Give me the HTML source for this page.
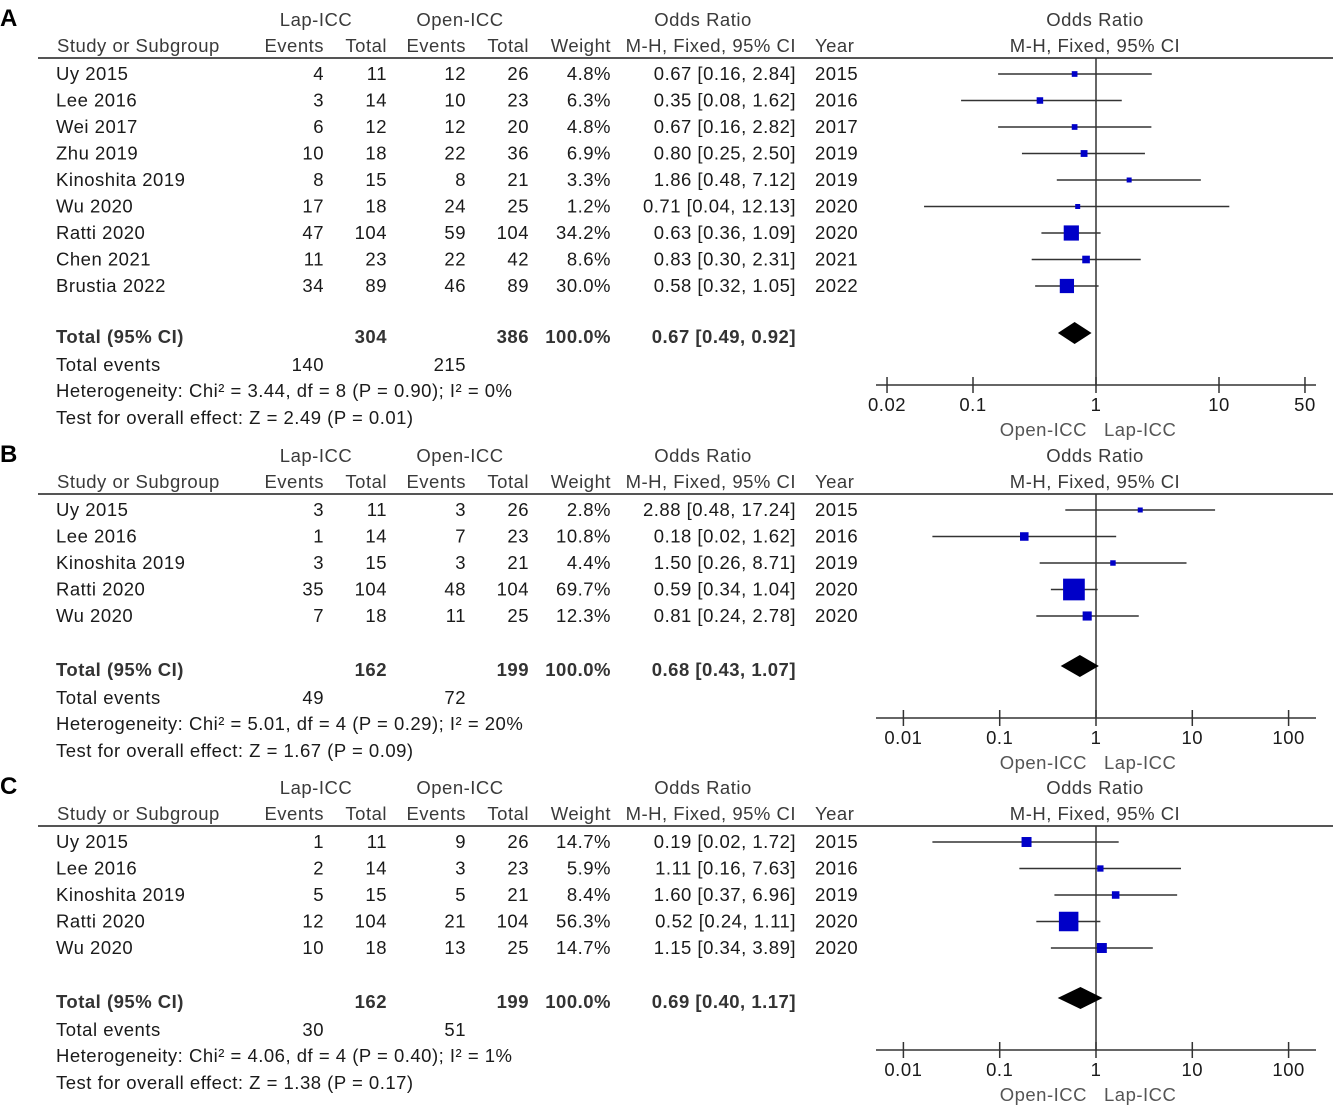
<!DOCTYPE html>
<html><head><meta charset="utf-8"><style>
html,body{margin:0;padding:0;background:#fff;}
svg{display:block;font-family:"Liberation Sans",Arial,sans-serif;}
text{letter-spacing:0.5px;}
</style></head><body>
<svg id="fp" width="1333" height="1108" viewBox="0 0 1333 1108" xmlns="http://www.w3.org/2000/svg"></svg>
<script>
// ---- Panel A data ----
const studiesA = ["Uy 2015","Lee 2016","Wei 2017","Zhu 2019","Kinoshita 2019","Wu 2020","Ratti 2020","Chen 2021","Brustia 2022"];
const lapEvA = [4,3,6,10,8,17,47,11,34];
const lapTotA = [11,14,12,18,15,18,104,23,89];
const openEvA = [12,10,12,22,8,24,59,22,46];
const openTotA = [26,23,20,36,21,25,104,42,89];
const weightA = [4.8,6.3,4.8,6.9,3.3,1.2,34.2,8.6,30.0];
const orA = [0.67,0.35,0.67,0.80,1.86,0.71,0.63,0.83,0.58];
const loA = [0.16,0.08,0.16,0.25,0.48,0.04,0.36,0.30,0.32];
const hiA = [2.84,1.62,2.82,2.50,7.12,12.13,1.09,2.31,1.05];
const yearA = [2015,2016,2017,2019,2019,2020,2020,2021,2022];
const totalA = {lap:304, open:386, lapEv:140, openEv:215, or:0.67, lo:0.49, hi:0.92,
  het:"Heterogeneity: Chi² = 3.44, df = 8 (P = 0.90); I² = 0%", test:"Test for overall effect: Z = 2.49 (P = 0.01)"};
const ticksA = [0.02,0.1,1,10,50];
const tickLabelsA = ["0.02","0.1","1","10","50"];
// ---- Panel B data ----
const studiesB = ["Uy 2015","Lee 2016","Kinoshita 2019","Ratti 2020","Wu 2020"];
const lapEvB = [3,1,3,35,7];
const lapTotB = [11,14,15,104,18];
const openEvB = [3,7,3,48,11];
const openTotB = [26,23,21,104,25];
const weightB = [2.8,10.8,4.4,69.7,12.3];
const orB = [2.88,0.18,1.50,0.59,0.81];
const loB = [0.48,0.02,0.26,0.34,0.24];
const hiB = [17.24,1.62,8.71,1.04,2.78];
const yearB = [2015,2016,2019,2020,2020];
const totalB = {lap:162, open:199, lapEv:49, openEv:72, or:0.68, lo:0.43, hi:1.07,
  het:"Heterogeneity: Chi² = 5.01, df = 4 (P = 0.29); I² = 20%", test:"Test for overall effect: Z = 1.67 (P = 0.09)"};
const ticksB = [0.01,0.1,1,10,100];
const tickLabelsB = ["0.01","0.1","1","10","100"];
// ---- Panel C data ----
const studiesC = ["Uy 2015","Lee 2016","Kinoshita 2019","Ratti 2020","Wu 2020"];
const lapEvC = [1,2,5,12,10];
const lapTotC = [11,14,15,104,18];
const openEvC = [9,3,5,21,13];
const openTotC = [26,23,21,104,25];
const weightC = [14.7,5.9,8.4,56.3,14.7];
const orC = [0.19,1.11,1.60,0.52,1.15];
const loC = [0.02,0.16,0.37,0.24,0.34];
const hiC = [1.72,7.63,6.96,1.11,3.89];
const yearC = [2015,2016,2019,2020,2020];
const totalC = {lap:162, open:199, lapEv:30, openEv:51, or:0.69, lo:0.40, hi:1.17,
  het:"Heterogeneity: Chi² = 4.06, df = 4 (P = 0.40); I² = 1%", test:"Test for overall effect: Z = 1.38 (P = 0.17)"};
const ticksC = [0.01,0.1,1,10,100];
const tickLabelsC = ["0.01","0.1","1","10","100"];

const NS = "http://www.w3.org/2000/svg";
const svg = document.getElementById("fp");
function el(tag, attrs, parent){
  const e = document.createElementNS(NS, tag);
  for (const k in attrs) e.setAttribute(k, attrs[k]);
  (parent||svg).appendChild(e);
  return e;
}
function txt(parent, x, y, s, anchor, bold, color, size){
  const t = el("text", {x:x, y:y, "text-anchor":anchor||"start", "font-size":size||18.5,
    fill:color||"#1a1a1a", "font-weight":bold?"bold":"normal"}, parent);
  t.textContent = s;
  return t;
}
function fmt(v){ return v.toFixed(2); }
function fmtCI(o,l,h){ return fmt(o)+" ["+fmt(l)+", "+fmt(h)+"]"; }

const panels = [
  {letter:"A", top:0, studies:studiesA, lapEv:lapEvA, lapTot:lapTotA, openEv:openEvA, openTot:openTotA, w:weightA, or:orA, lo:loA, hi:hiA, yr:yearA, tot:totalA, ticks:ticksA, tl:tickLabelsA, center:1096, dec:123, axisY:385},
  {letter:"B", top:436, studies:studiesB, lapEv:lapEvB, lapTot:lapTotB, openEv:openEvB, openTot:openTotB, w:weightB, or:orB, lo:loB, hi:hiB, yr:yearB, tot:totalB, ticks:ticksB, tl:tickLabelsB, center:1096, dec:96.3, axisY:718},
  {letter:"C", top:768, studies:studiesC, lapEv:lapEvC, lapTot:lapTotC, openEv:openEvC, openTot:openTotC, w:weightC, or:orC, lo:loC, hi:hiC, yr:yearC, tot:totalC, ticks:ticksC, tl:tickLabelsC, center:1096, dec:96.3, axisY:1050}
];

const HC = "#3a3a3a";
panels.forEach(function(p, pi){
  const g = el("g", {});
  
  
  const T = p.top;
  const xs = v => p.center + Math.log10(v) * p.dec;
  const xMin = 876, xMax = 1316;
  const clampX = x => Math.max(xMin, Math.min(xMax, x));

  const lt = txt(g, 0, T+26, p.letter, "start", true, "#000", 24);
  
  

  const hg = el("g", {}, g);
  
  
  const h1 = T+26, h2 = T+52;
  txt(hg, 316, h1, "Lap-ICC", "middle", false, HC);
  txt(hg, 460, h1, "Open-ICC", "middle", false, HC);
  txt(hg, 703, h1, "Odds Ratio", "middle", false, HC);
  txt(hg, 1095, h1, "Odds Ratio", "middle", false, HC);
  txt(hg, 57, h2, "Study or Subgroup", "start", false, HC);
  txt(hg, 324, h2, "Events", "end", false, HC);
  txt(hg, 387, h2, "Total", "end", false, HC);
  txt(hg, 466, h2, "Events", "end", false, HC);
  txt(hg, 529, h2, "Total", "end", false, HC);
  txt(hg, 611, h2, "Weight", "end", false, HC);
  txt(hg, 796, h2, "M-H, Fixed, 95% CI", "end", false, HC);
  txt(hg, 815, h2, "Year", "start", false, HC);
  txt(hg, 1095, h2, "M-H, Fixed, 95% CI", "middle", false, HC);
  const hl = el("line", {x1:38, x2:1333, y1:T+58, y2:T+58, stroke:"#555", "stroke-width":2}, g);
  
  

  const nl = el("line", {x1:xs(1), x2:xs(1), y1:T+58, y2:p.axisY, stroke:"#333", "stroke-width":1.5}, g);
  
  

  p.studies.forEach(function(s, i){
    const cy = T + 74 + i*26.5;
    const by = cy + 6;
    const rg = el("g", {}, g);
    
    
    txt(rg, 56, by, s);
    txt(rg, 324, by, String(p.lapEv[i]), "end");
    txt(rg, 387, by, String(p.lapTot[i]), "end");
    txt(rg, 466, by, String(p.openEv[i]), "end");
    txt(rg, 529, by, String(p.openTot[i]), "end");
    txt(rg, 611, by, p.w[i].toFixed(1)+"%", "end");
    txt(rg, 796, by, fmtCI(p.or[i], p.lo[i], p.hi[i]), "end");
    txt(rg, 815, by, String(p.yr[i]));
    const ci = el("line", {x1:clampX(xs(p.lo[i])), x2:clampX(xs(p.hi[i])), y1:cy, y2:cy, stroke:"#333", "stroke-width":1.5}, rg);
    
    
    const sz = Math.max(5, 2.6*Math.sqrt(p.w[i]));
    const sq = el("rect", {x:xs(p.or[i])-sz/2, y:cy-sz/2, width:sz, height:sz, fill:"#0000c8"}, rg);
    
    
  });

  const tg = el("g", {}, g);
  
  
  const tY = p.axisY - 48;
  const tb = tY + 6;
  txt(tg, 56, tb, "Total (95% CI)", "start", true, "#333");
  txt(tg, 387, tb, String(p.tot.lap), "end", true, "#333");
  txt(tg, 529, tb, String(p.tot.open), "end", true, "#333");
  txt(tg, 611, tb, "100.0%", "end", true, "#333");
  txt(tg, 796, tb, fmtCI(p.tot.or, p.tot.lo, p.tot.hi), "end", true, "#333");
  const dY = p.axisY - 52;
  const dx1 = xs(p.tot.lo), dx2 = xs(p.tot.hi), dxc = xs(p.tot.or);
  const dm = el("polygon", {points:dx1+","+dY+" "+dxc+","+(dY-11)+" "+dx2+","+dY+" "+dxc+","+(dY+11), fill:"#000"}, tg);
  
  

  const eg = el("g", {}, g);
  
  
  txt(eg, 56, tY+34, "Total events");
  txt(eg, 324, tY+34, String(p.tot.lapEv), "end");
  txt(eg, 466, tY+34, String(p.tot.openEv), "end");
  txt(eg, 56, tY+60, p.tot.het);
  txt(eg, 56, tY+87, p.tot.test);

  const ag = el("g", {}, g);
  
  
  el("line", {x1:xMin, x2:xMax, y1:p.axisY, y2:p.axisY, stroke:"#333", "stroke-width":1.5}, ag);
  p.ticks.forEach(function(t, k){
    const x = xs(t);
    const tk = el("line", {x1:x, x2:x, y1:p.axisY-8, y2:p.axisY+8, stroke:"#333", "stroke-width":1.5}, ag);
    
    
    const lb = txt(ag, x, p.axisY+26, p.tl[k], "middle");
    
    
  });
  const o1 = txt(ag, 1087, p.axisY+51, "Open-ICC", "end", false, "#555");
  
  
  const o2 = txt(ag, 1104, p.axisY+51, "Lap-ICC", "start", false, "#555");
  
  
});
</script>
</body></html>
